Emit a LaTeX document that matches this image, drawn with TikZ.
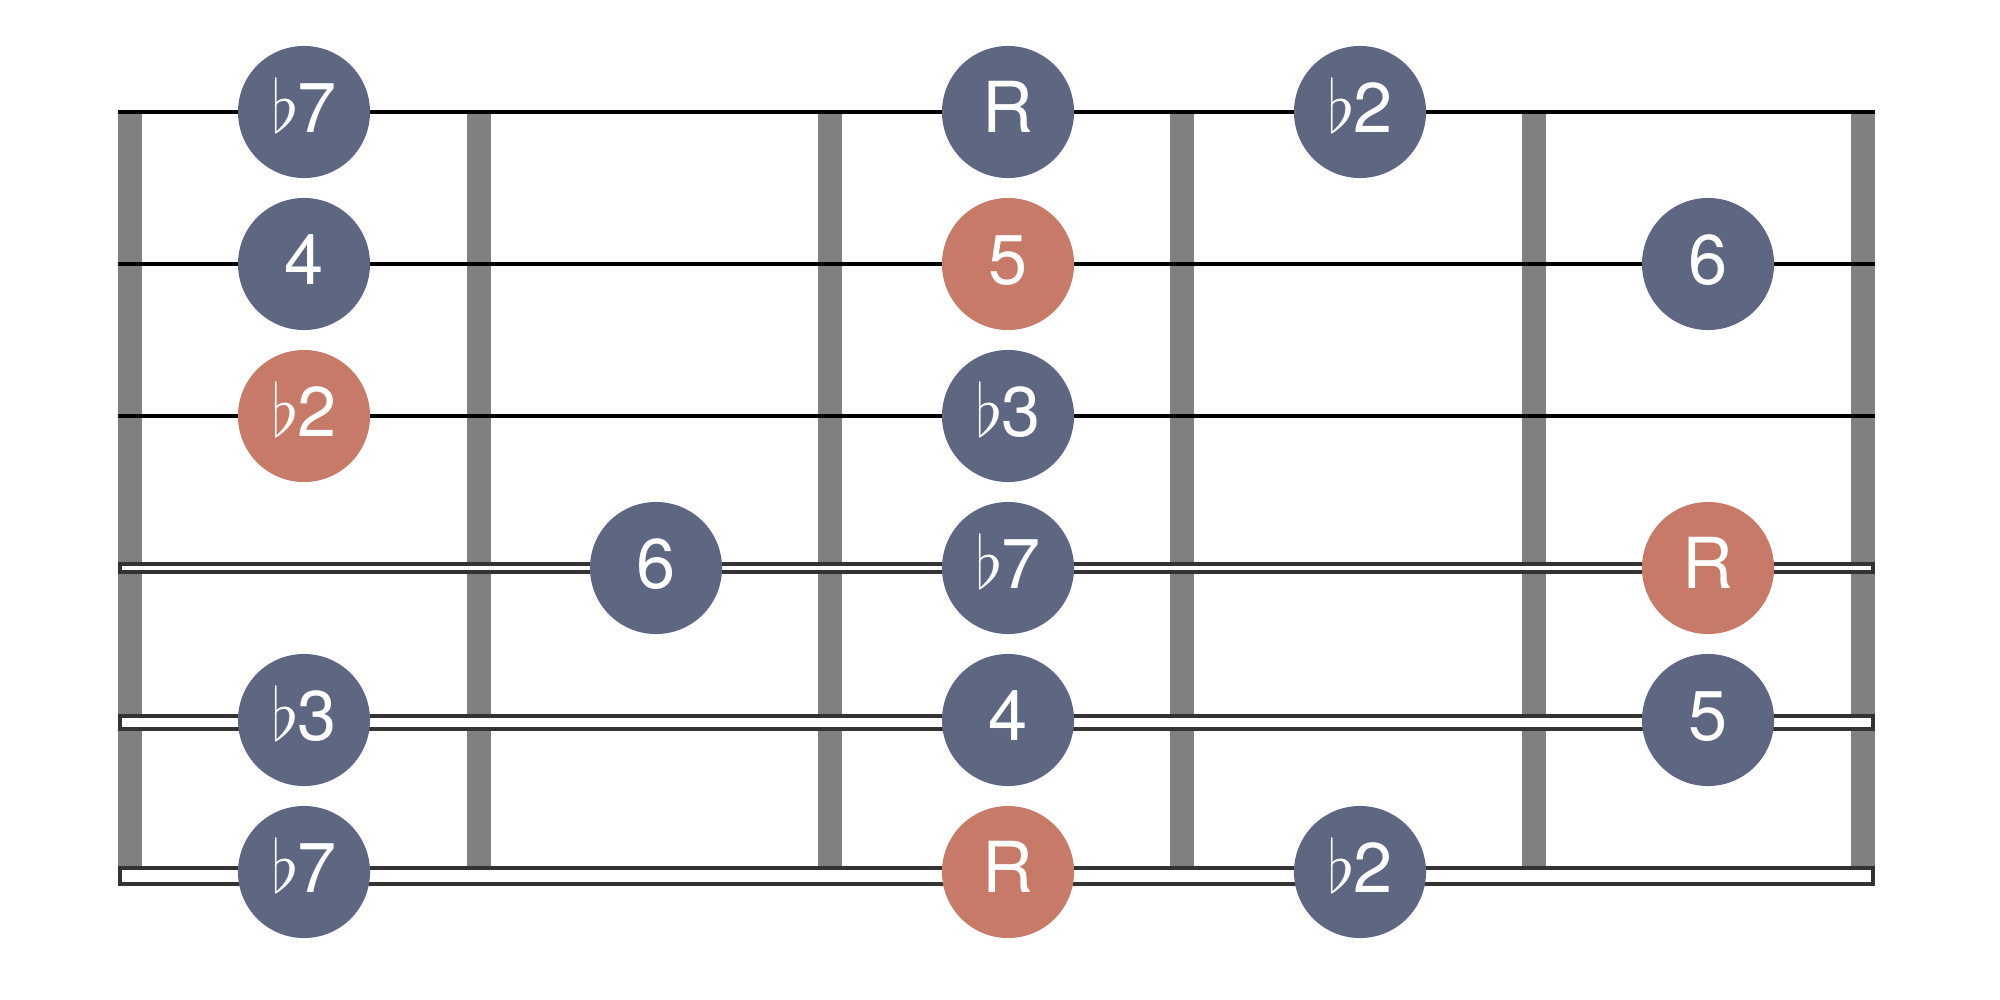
\documentclass[tikz,border=0pt]{standalone}
\usepackage{fontspec}
\setmainfont{TeX Gyre Heros}
\definecolor{noteblue}{HTML}{5D6781}
\definecolor{noteroot}{HTML}{C87A68}
\definecolor{fretgray}{HTML}{808080}
\definecolor{stringdark}{HTML}{333333}
\def\fl#1{\hbox{$\flat$\kern-0.5pt#1}}

\begin{document}
\begin{tikzpicture}[x=0.01cm,y=-0.01cm,
		note/.style={circle,fill=noteblue,minimum size=1.32cm,inner sep=0pt,
			text=white,font=\fontsize{20}{24}\selectfont,
			text height=0.5cm,text depth=0.1cm},
		root/.style={note,fill=noteroot},
		wound/.style={draw=stringdark,fill=white,line width=0.04cm}]
	\useasboundingbox (0,0) rectangle (2000,1000);
	
	% frets
	\foreach \x in {118,467,818,1170,1522,1851}
		\fill[fretgray] (\x,110) rectangle ++(24,776);
	
	% strings
	\foreach \y in {112,264,416}
		\draw[line width=0.04cm] (118,\y) -- (1875,\y);
	\draw[wound] (120,564) rectangle (1873,572);
	\draw[wound] (120,716) rectangle (1873,728.5);
	\draw[wound] (120,868) rectangle (1873,884);
	
	% notes
	\node[note] (s1a) at (304,112)  {\fl 7};
	\node[note] (s1c) at (1008,112) {R};
	\node[note] (s1d) at (1360,112) {\fl 2};
	
	\node[note] (s2a) at (304,264)  {4};
	\node[root] (s2c) at (1008,264) {5};
	\node[note] (s2e) at (1708,264) {6};
	
	\node[root] (s3a) at (304,416)  {\fl 2};
	\node[note] (s3c) at (1008,416) {\fl 3};
	
	\node[note] (s4b) at (656,568)  {6};
	\node[note] (s4c) at (1008,568) {\fl 7};
	\node[root] (s4e) at (1708,568) {R};
	
	\node[note] (s5a) at (304,720)  {\fl 3};
	\node[note] (s5c) at (1008,720) {4};
	\node[note] (s5e) at (1708,720) {5};
	
	\node[note] (s6a) at (304,872)  {\fl 7};
	\node[root] (s6c) at (1008,872) {R};
	\node[note] (s6d) at (1360,872) {\fl 2};
\end{tikzpicture}
\end{document}
